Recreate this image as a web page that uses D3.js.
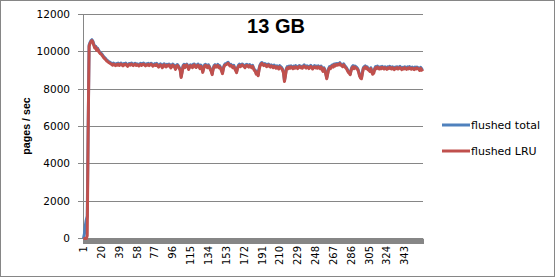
<!DOCTYPE html>
<meta charset="utf-8">
<head>
    <title>13 GB flushed pages</title>
    <script src="https://cdn.jsdelivr.net/npm/d3@7"></script>
</head>

<style>
    body { margin: 0; background: #fff; }
    text { font-family: "DejaVu Sans", Verdana, sans-serif; }
    .title, .ytitle { font-family: "Liberation Sans", Arial, sans-serif; font-weight: bold; }
</style>

<svg></svg>

<script>
    // chart data
    var categories = d3.range(1, 363);
    var xTickLabels = [1, 20, 39, 58, 77, 96, 115, 134, 153, 172, 191, 210, 229, 248, 267, 286, 305, 324, 343];
    var yTicks = [0, 2000, 4000, 6000, 8000, 10000, 12000];
    var seriesNames = ["flushed total", "flushed LRU"];

    var flushedTotal = [
        0, 250, 700, 1000, 1200, 6000, 10360, 10500, 10600, 10650,
        10570, 10400, 10260, 10300, 10130, 10200, 10090, 10010, 9960, 9920,
        9850, 9770, 9720, 9660, 9610, 9550, 9520, 9470, 9450, 9410,
        9380, 9340, 9400, 9350, 9320, 9370, 9340, 9400, 9320, 9360,
        9400, 9340, 9310, 9370, 9350, 9400, 9330, 9280, 9350, 9380,
        9350, 9400, 9360, 9320, 9350, 9390, 9330, 9360, 9340, 9300,
        9350, 9390, 9320, 9370, 9400, 9350, 9300, 9360, 9340, 9380,
        9320, 9350, 9390, 9350, 9280, 9330, 9370, 9320, 9380, 9310,
        9240, 9310, 9360, 9290, 9210, 9320, 9360, 9280, 9240, 9330,
        9300, 9350, 9310, 9190, 9260, 9340, 9310, 9230, 9120, 9280,
        9320, 9260, 9160, 9060, 8680, 8950, 9260, 9330, 9210, 9300,
        9350, 9260, 9100, 9240, 9310, 9280, 9200, 9340, 9350, 9260,
        9210, 9310, 9340, 9260, 9150, 9290, 9200, 8960, 9150, 9300,
        9330, 9260, 9200, 9310, 9230, 9100, 9010, 8830, 9100, 9260,
        9310, 9240, 9270, 9330, 9200, 9260, 9150, 9040, 8880, 9160,
        9300, 9360, 9370, 9410, 9440, 9350, 9300, 9330, 9260, 9200,
        9280, 9150, 9060, 8930, 9160, 9280, 9340, 9250, 9310, 9350,
        9310, 9260, 9200, 9310, 9330, 9280, 9230, 9320, 9250, 9210,
        9280, 9160, 9050, 9010, 8850, 8960, 8770, 9110, 9300, 9390,
        9430, 9360, 9310, 9370, 9340, 9250, 9310, 9350, 9280, 9230,
        9300, 9260, 9200, 9290, 9230, 9180, 9250, 9210, 9130, 9260,
        9200, 9160, 9070, 8910, 8460, 8760, 9100, 9210, 9150, 9240,
        9180, 9250, 9210, 9150, 9240, 9180, 9260, 9210, 9160, 9230,
        9270, 9210, 9230, 9180, 9250, 9300, 9220, 9190, 9250, 9220,
        9160, 9230, 9280, 9200, 9140, 9210, 9260, 9190, 9240, 9170,
        9250, 9210, 9150, 9240, 9100, 9010, 9150, 9060, 8850, 8620,
        8860, 9100, 9210, 9150, 9260, 9300, 9240, 9350, 9310, 9370,
        9340, 9380, 9360, 9420, 9330, 9310, 9250, 9360, 9280, 9210,
        9150, 9060, 8950, 8910, 8820, 9060, 9200, 9260, 9150, 9240,
        9200, 9160, 9100, 8960, 8750, 8660, 8610, 8910, 9150, 9210,
        9250, 9160, 9200, 9110, 9050, 9010, 9150, 8960, 8850, 8910,
        9100, 9210, 9150, 9240, 9170, 9140, 9200, 9160, 9220, 9180,
        9140, 9200, 9160, 9110, 9200, 9150, 9230, 9170, 9140, 9200,
        9150, 9110, 9180, 9160, 9200, 9140, 9170, 9220, 9150, 9110,
        9170, 9140, 9200, 9160, 9110, 9190, 9140, 9210, 9150, 9130,
        9180, 9150, 9100, 9180, 9130, 9190, 9160, 9110, 9060, 9170,
        9100, 9010
    ];

    var flushedLRU = [
        0, 0, 0, 0, 150, 5800, 10300, 10450, 10550, 10600,
        10520, 10350, 10200, 10250, 10080, 10150, 10040, 9960, 9900, 9870,
        9800, 9720, 9660, 9610, 9560, 9500, 9460, 9420, 9400, 9360,
        9330, 9280, 9350, 9300, 9260, 9320, 9290, 9340, 9270, 9310,
        9350, 9290, 9250, 9320, 9300, 9340, 9280, 9220, 9300, 9330,
        9290, 9350, 9310, 9260, 9300, 9340, 9270, 9310, 9290, 9240,
        9300, 9330, 9270, 9320, 9350, 9290, 9250, 9310, 9280, 9330,
        9260, 9300, 9340, 9290, 9230, 9280, 9310, 9270, 9330, 9250,
        9180, 9260, 9300, 9240, 9150, 9270, 9310, 9220, 9190, 9280,
        9240, 9300, 9260, 9130, 9210, 9290, 9250, 9180, 9060, 9230,
        9270, 9200, 9110, 9000, 8620, 8900, 9200, 9280, 9150, 9250,
        9300, 9200, 9050, 9180, 9260, 9220, 9150, 9280, 9300, 9200,
        9160, 9250, 9290, 9200, 9100, 9230, 9150, 8900, 9100, 9240,
        9280, 9200, 9150, 9250, 9180, 9050, 8950, 8780, 9050, 9200,
        9260, 9180, 9220, 9270, 9150, 9200, 9100, 8980, 8830, 9100,
        9250, 9300, 9320, 9350, 9390, 9300, 9240, 9280, 9200, 9150,
        9220, 9100, 9000, 8880, 9100, 9230, 9280, 9200, 9250, 9300,
        9260, 9200, 9150, 9250, 9280, 9220, 9180, 9260, 9200, 9150,
        9230, 9100, 9000, 8950, 8800, 8900, 8720, 9050, 9250, 9330,
        9380, 9300, 9260, 9320, 9280, 9200, 9250, 9300, 9220, 9180,
        9250, 9200, 9150, 9230, 9180, 9120, 9200, 9150, 9080, 9200,
        9150, 9100, 9020, 8850, 8410, 8700, 9050, 9150, 9100, 9180,
        9120, 9200, 9150, 9100, 9180, 9130, 9200, 9160, 9100, 9180,
        9220, 9150, 9180, 9120, 9200, 9240, 9170, 9130, 9200, 9160,
        9100, 9180, 9220, 9150, 9080, 9160, 9200, 9140, 9180, 9120,
        9200, 9150, 9100, 9180, 9050, 8950, 9100, 9000, 8800, 8560,
        8800, 9050, 9150, 9100, 9200, 9250, 9180, 9300, 9250, 9320,
        9280, 9330, 9300, 9370, 9280, 9250, 9200, 9300, 9230, 9150,
        9100, 9000, 8900, 8850, 8770, 9000, 9150, 9200, 9100, 9180,
        9150, 9100, 9050, 8900, 8700, 8600, 8560, 8850, 9100, 9150,
        9200, 9100, 9150, 9050, 9000, 8950, 9100, 8900, 8800, 8850,
        9050, 9150, 9100, 9180, 9120, 9080, 9150, 9100, 9170, 9120,
        9080, 9150, 9100, 9060, 9140, 9100, 9170, 9120, 9080, 9150,
        9100, 9050, 9130, 9100, 9150, 9080, 9120, 9160, 9100, 9050,
        9120, 9080, 9150, 9100, 9060, 9130, 9090, 9150, 9100, 9070,
        9130, 9090, 9050, 9120, 9080, 9140, 9100, 9060, 9000, 9120,
        9050, 8950
    ];

    var series = [flushedTotal, flushedLRU];
    var colors = ["#4F81BD", "#C0504D"];

    // layout
    var vWidth = 555;
    var vHeight = 277;
    var plot = {left: 83, right: 423, top: 14.5, bottom: 238.5};
    var gridColor = "#868686";

    var svg = d3.select('svg')
        .attr('width', vWidth)
        .attr('height', vHeight);

    svg.append('rect')
        .attr('x', 0.5).attr('y', 0.5)
        .attr('width', vWidth - 1).attr('height', vHeight - 1)
        .attr('fill', '#fff')
        .attr('stroke', gridColor);

    // scales
    var x = d3.scaleBand()
        .domain(categories)
        .range([plot.left, plot.right])
        .padding(0);

    var xEdge = d3.scaleLinear()
        .domain([0, categories.length])
        .range([plot.left, plot.right]);

    var y = d3.scaleLinear()
        .domain([0, 12000])
        .range([plot.bottom, plot.top]);

    function crisp(v) { return Math.round(v - 0.5) + 0.5; }

    // gridlines + y ticks
    svg.append('g').selectAll('line').data(yTicks).enter().append('line')
        .attr('x1', plot.left - 5)
        .attr('x2', plot.right)
        .attr('y1', function (d) { return crisp(y(d)); })
        .attr('y2', function (d) { return crisp(y(d)); })
        .attr('stroke', gridColor);

    svg.append('g').selectAll('text').data(yTicks).enter().append('text')
        .attr('x', 70)
        .attr('y', function (d) { return crisp(y(d)); })
        .attr('dy', '0.36em')
        .attr('text-anchor', 'end')
        .style('font-size', '10.5px')
        .text(function (d) { return d; });

    // y axis line
    svg.append('line')
        .attr('x1', crisp(plot.left)).attr('x2', crisp(plot.left))
        .attr('y1', plot.top).attr('y2', plot.bottom)
        .attr('stroke', gridColor);

    // x axis: a tick mark between every category (reads as a solid band)
    var xAxis = d3.axisBottom(xEdge)
        .tickValues(d3.range(0, categories.length + 1))
        .tickSize(5)
        .tickFormat('');

    svg.append('g')
        .attr('transform', 'translate(0,' + crisp(plot.bottom) + ')')
        .call(xAxis)
        .call(function (g) {
            g.selectAll('line')
                .attr('stroke', gridColor)
                .attr('stroke-width', 1)
                .attr('shape-rendering', 'crispEdges');
            g.select('.domain').attr('stroke', gridColor);
        });

    // x labels, rotated
    svg.append('g').selectAll('text').data(xTickLabels).enter().append('text')
        .attr('transform', function (d) {
            return 'translate(' + (x(d) + x.bandwidth() / 2) + ',246) rotate(-90)';
        })
        .attr('dy', '0.36em')
        .attr('text-anchor', 'end')
        .style('font-size', '10px')
        .text(function (d) { return d; });

    // lines
    var line = d3.line()
        .x(function (d, i) { return x(categories[i]) + x.bandwidth() / 2; })
        .y(function (d) { return y(d); });

    svg.append('g').selectAll('path').data(series).enter().append('path')
        .attr('d', line)
        .attr('fill', 'none')
        .attr('stroke', function (d, i) { return colors[i]; })
        .attr('stroke-width', 3)
        .attr('stroke-linejoin', 'round');

    // titles
    svg.append('text')
        .attr('class', 'title')
        .attr('x', 276).attr('y', 33)
        .attr('text-anchor', 'middle')
        .style('font-size', '20px')
        .text('13 GB');

    svg.append('text')
        .attr('class', 'ytitle')
        .attr('transform', 'translate(30,126) rotate(-90)')
        .attr('text-anchor', 'middle')
        .style('font-size', '10.7px')
        .text('pages / sec');

    // legend
    var legend = svg.append('g').selectAll('g').data(seriesNames).enter().append('g')
        .attr('transform', function (d, i) { return 'translate(442,' + (125 + i * 26) + ')'; });

    legend.append('line')
        .attr('x1', 0).attr('x2', 28)
        .attr('stroke', function (d, i) { return colors[i]; })
        .attr('stroke-width', 3);

    legend.append('text')
        .attr('x', 29)
        .attr('dy', '0.36em')
        .style('font-size', '11px')
        .text(function (d) { return d; });
</script>
